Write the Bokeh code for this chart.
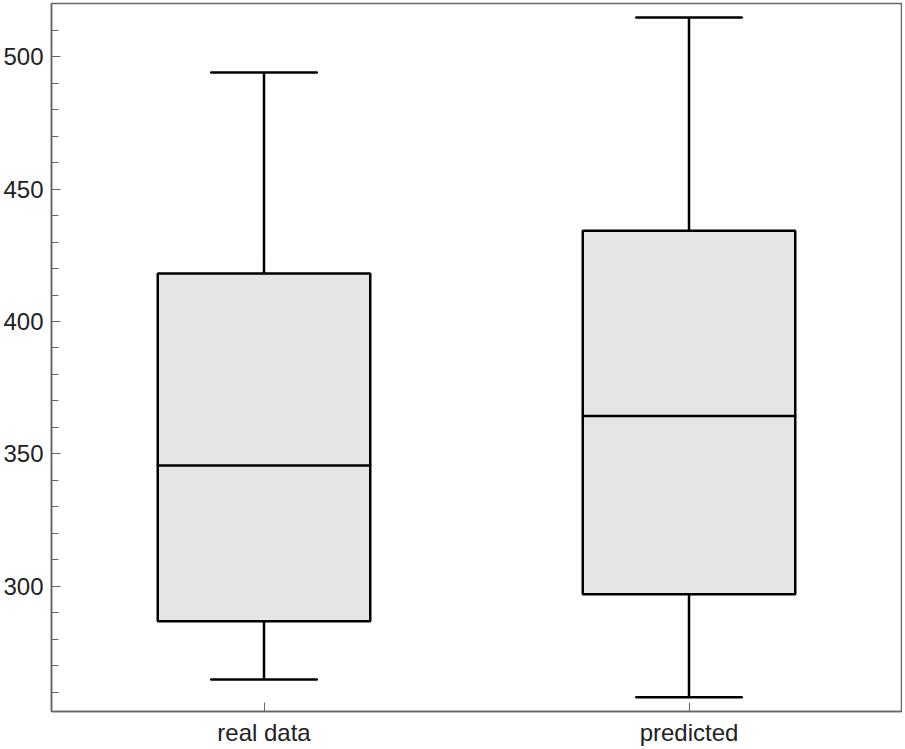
from bokeh.plotting import figure
from bokeh.models import FactorRange, Range1d, SingleIntervalTicker, ColumnDataSource
from bokeh.embed import file_html
from bokeh.resources import INLINE

categories = ["real data", "predicted"]
lower = [264.8, 258.1]
q1 = [286.8, 297.0]
median = [345.6, 364.3]
q3 = [418.1, 434.3]
upper = [494.0, 514.8]

src = ColumnDataSource(dict(cat=categories, lower=lower, q1=q1, median=median, q3=q3, upper=upper))

p = figure(x_range=FactorRange(*categories, range_padding=0), y_range=Range1d(252.7, 520.1),
           width=902, height=748, output_backend="svg", toolbar_location=None,
           min_border_left=51, min_border_right=1, min_border_top=3, min_border_bottom=37)

box_w = 0.5
cap_w = 0.25
# whiskers
p.segment(x0="cat", y0="q3", x1="cat", y1="upper", source=src, line_color="black", line_width=2.5)
p.segment(x0="cat", y0="lower", x1="cat", y1="q1", source=src, line_color="black", line_width=2.5)
# boxes
p.vbar(x="cat", top="q3", bottom="q1", width=box_w, source=src,
       fill_color="#e5e5e5", line_color="black", line_width=2.5)
# median and caps
p.rect(x="cat", y="median", width=box_w, height=0.0001, height_units="screen", source=src,
       fill_alpha=0, line_color="black", line_width=2.5)
p.rect(x="cat", y="upper", width=cap_w, height=0.0001, height_units="screen", source=src,
       fill_alpha=0, line_color="black", line_width=2.5)
p.rect(x="cat", y="lower", width=cap_w, height=0.0001, height_units="screen", source=src,
       fill_alpha=0, line_color="black", line_width=2.5)

p.xgrid.visible = False
p.ygrid.visible = False
p.outline_line_color = "#666666"
p.outline_line_width = 1.5

p.yaxis.ticker = SingleIntervalTicker(interval=50, num_minor_ticks=5)
for ax in (p.xaxis[0], p.yaxis[0]):
    ax.axis_line_color = "#666666"
    ax.axis_line_width = 1.5
    ax.major_tick_line_color = "#666666"
    ax.minor_tick_line_color = "#666666"
    ax.major_tick_in = 9
    ax.major_tick_out = 0
    ax.minor_tick_in = 7
    ax.minor_tick_out = 0
    ax.major_label_text_font = "Liberation Sans"
    ax.major_label_text_font_size = "24px"
    ax.major_label_text_color = "#222222"
p.yaxis.major_label_standoff = 8
p.xaxis.major_label_standoff = 7

open("out.html", "w").write(file_html(p, INLINE))
